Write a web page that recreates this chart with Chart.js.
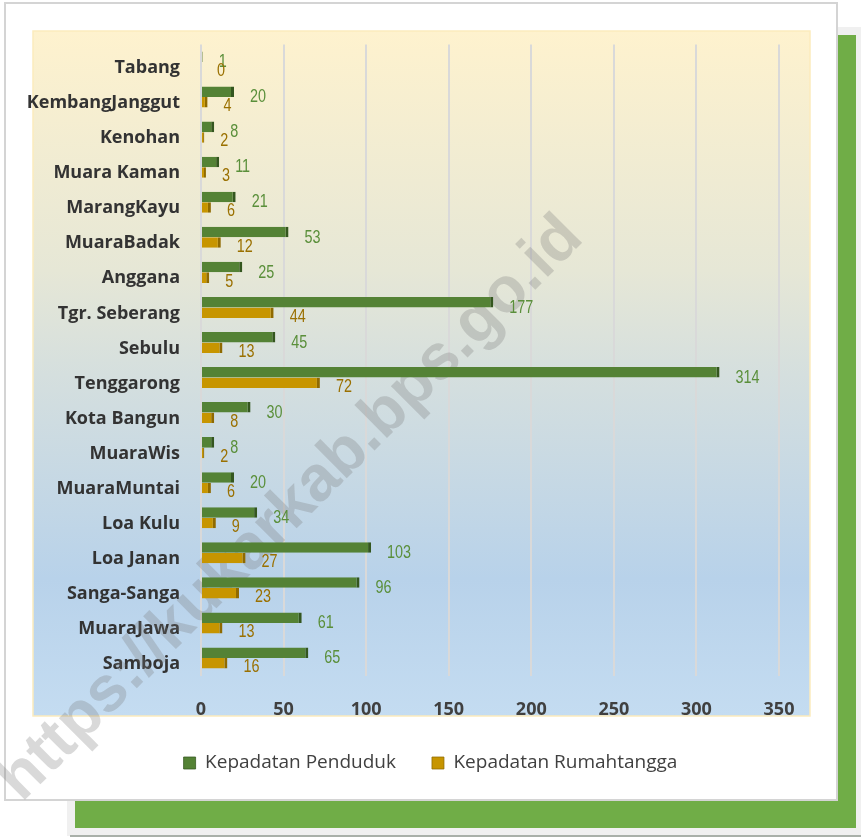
<!DOCTYPE html>
<html>
<head>
<meta charset="utf-8">
<script src="https://cdn.jsdelivr.net/npm/chart.js@4.4.1/dist/chart.umd.min.js"></script>
<style>
  html, body { margin: 0; padding: 0; background: #ffffff; }
  #wrap { width: 861px; height: 838px; position: relative; }
</style>
</head>
<body>
<div id="wrap"><canvas id="c" width="861" height="838"></canvas></div>
<script>
const categories = ["Tabang","KembangJanggut","Kenohan","Muara Kaman","MarangKayu","MuaraBadak","Anggana","Tgr. Seberang","Sebulu","Tenggarong","Kota Bangun","MuaraWis","MuaraMuntai","Loa Kulu","Loa Janan","Sanga-Sanga","MuaraJawa","Samboja"];
const kepadatanPenduduk = [1,20,8,11,21,53,25,177,45,314,30,8,20,34,103,96,61,65];
const kepadatanRumahtangga = [0,4,2,3,6,12,5,44,13,72,8,2,6,9,27,23,13,16];
const xTicks = [0,50,100,150,200,250,300,350];
const seriesNames = ["Kepadatan Penduduk","Kepadatan Rumahtangga"];

const GREEN = '#548235', GOLD = '#c79500';
const LABEL_COLORS = ['#5a8f3a', '#9a7000'];

const backdrop = {
  id: 'backdrop',
  afterLayout(chart) {
    // centre the legend on the whole card, not only on the plot width
    if (chart.legend) { chart.legend.left = 0; chart.legend.right = 861; }
  },
  beforeDraw(chart) {
    const ctx = chart.ctx;
    ctx.save();
    ctx.fillStyle = '#ffffff';
    ctx.fillRect(0, 0, 861, 838);
    ctx.fillStyle = '#f0f0f0';
    ctx.fillRect(67, 27, 794, 809);
    ctx.fillStyle = '#70ad47';
    ctx.fillRect(75, 35, 781, 793);
    ctx.fillStyle = '#a9b0a9';
    ctx.fillRect(70, 835, 791, 2);
    ctx.fillStyle = '#ffffff';
    ctx.fillRect(5, 3, 832, 797);
    ctx.strokeStyle = '#d4d4d4';
    ctx.lineWidth = 2;
    ctx.strokeRect(5, 3, 832, 797);
    const g = ctx.createLinearGradient(0, 31, 0, 716);
    g.addColorStop(0, '#fef2ce');
    g.addColorStop(0.35, '#e6e7d6');
    g.addColorStop(0.5, '#d5dfde');
    g.addColorStop(0.8, '#b8d2ea');
    g.addColorStop(1, '#c4dcf1');
    ctx.fillStyle = g;
    ctx.fillRect(33, 31, 777, 685);
    ctx.strokeStyle = '#fcebbd';
    ctx.lineWidth = 1.5;
    ctx.strokeRect(33, 31, 777, 685);
    ctx.restore();
  },
  beforeDatasetsDraw(chart) {
    const ctx = chart.ctx;
    ctx.save();
    ctx.translate(291, 509);
    ctx.rotate(-Math.PI / 4);
    ctx.font = 'bold 64px "Liberation Sans", Arial, sans-serif';
    ctx.fillStyle = 'rgba(120,120,120,0.28)';
    ctx.textAlign = 'center';
    ctx.textBaseline = 'middle';
    ctx.fillText('https://kukarkab.bps.go.id', 0, 0);
    ctx.restore();
  }
};

const valueLabels = {
  id: 'valueLabels',
  afterDatasetsDraw(chart) {
    const ctx = chart.ctx;
    const xs = chart.scales.x;
    ctx.save();
    ctx.font = '18px "Liberation Sans", Arial, sans-serif';
    ctx.textAlign = 'left';
    ctx.textBaseline = 'middle';
    chart.data.datasets.forEach((ds, di) => {
      const meta = chart.getDatasetMeta(di);
      meta.data.forEach((bar, i) => {
        const v = ds.data[i];
        const x = xs.getPixelForValue(v) + 16;
        const y = bar.y + (di === 0 ? 5.5 : 4);
        ctx.save();
        ctx.translate(x, y);
        ctx.scale(0.8, 1);
        ctx.fillStyle = LABEL_COLORS[di];
        ctx.fillText(String(v), 0, 0);
        ctx.restore();
      });
    });
    ctx.restore();
  }
};

new Chart(document.getElementById('c'), {
  type: 'bar',
  data: {
    labels: categories,
    datasets: [
      {
        label: seriesNames[0],
        data: kepadatanPenduduk,
        backgroundColor: GREEN,
        borderColor: '#34561f',
        borderWidth: {top: 0, right: 3, bottom: 0, left: 0},
        borderSkipped: false,
        categoryPercentage: 0.6,
        barPercentage: 1.0
      },
      {
        label: seriesNames[1],
        data: kepadatanRumahtangga,
        backgroundColor: GOLD,
        borderColor: '#8f6a00',
        borderWidth: {top: 0, right: 3, bottom: 0, left: 0},
        borderSkipped: false,
        categoryPercentage: 0.6,
        barPercentage: 1.0
      }
    ]
  },
  options: {
    indexAxis: 'y',
    responsive: false,
    animation: false,
    devicePixelRatio: 1,
    layout: { padding: { top: 44.5, left: 0, right: 82, bottom: 55.5 } },
    scales: {
      x: {
        min: 0, max: 350,
        afterBuildTicks(scale) { scale.ticks = xTicks.map(v => ({ value: v })); },
        afterFit(scale) { scale.height = 42; },
        border: { display: false },
        grid: { color: '#d9d9d9', lineWidth: 2, drawTicks: false },
        ticks: {
          padding: 24,
          color: '#404040',
          font: { family: '"Open Sans", sans-serif', size: 18, weight: 'bold' }
        }
      },
      y: {
        afterFit(scale) { scale.width = 201; },
        border: { display: false },
        grid: { display: false, drawTicks: false },
        ticks: {
          padding: 21,
          labelOffset: 6,
          color: '#333333',
          autoSkip: false,
          font: { family: '"Open Sans", sans-serif', size: 18, weight: 'bold' }
        }
      }
    },
    plugins: {
      legend: {
        position: 'bottom',
        labels: {
          boxWidth: 12,
          boxHeight: 12,
          padding: 36,
          color: '#404040',
          font: { family: '"Open Sans", sans-serif', size: 19 }
        }
      },
      tooltip: { enabled: false }
    }
  },
  plugins: [backdrop, valueLabels]
});
</script>
</body>
</html>
